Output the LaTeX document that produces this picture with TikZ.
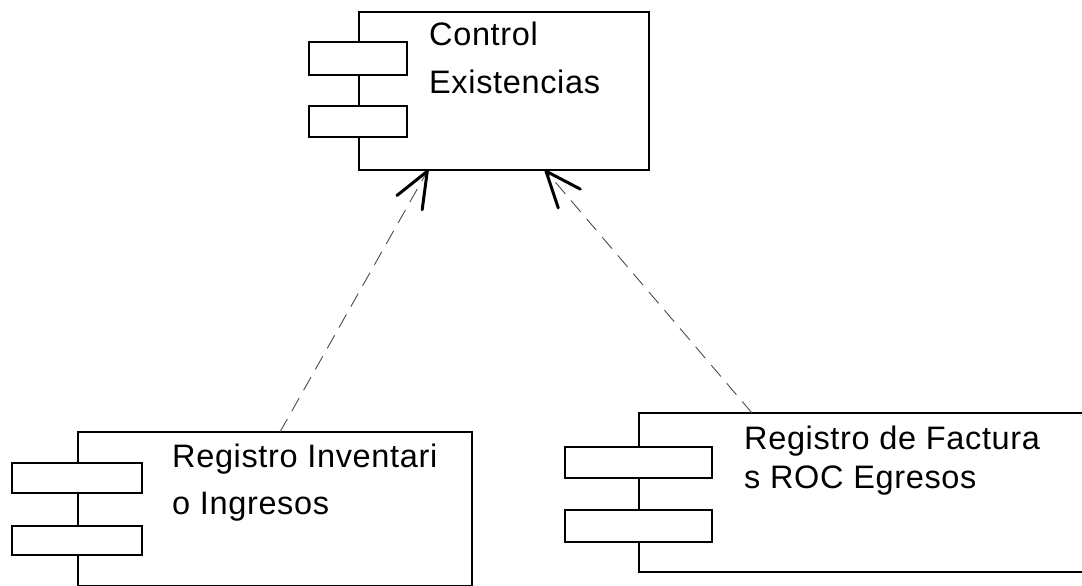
\documentclass[tikz,border=0pt]{standalone}
\usepackage{fontspec}
\usetikzlibrary{arrows.meta}
\newfontfamily\lblfont{Liberation Sans}[LetterSpace=2]
\tikzset{
  comp/.style={draw=black, line width=2.6pt, fill=white, inner sep=0pt, outer sep=0pt, anchor=north west},
  port/.style={draw=black, line width=2.2pt, fill=white, inner sep=0pt, outer sep=0pt, anchor=north west},
  lbl/.style={inner sep=0pt, anchor=base west, font=\lblfont\fontsize{32.5}{32.5}\selectfont},
  dep/.style={draw=black!70, line width=0.9pt, dash pattern=on 15pt off 9pt,
    -{Straight Barb[length=36pt,width=29pt,line width=3pt,round,color=black]}}
}
\begin{document}
\begin{tikzpicture}[x=1pt,y=-1pt]
\useasboundingbox (0,0) rectangle (1082,586);
% top component
\node[comp, minimum width=290pt, minimum height=158pt] (top) at (359,12) {};
\node[port, minimum width=98pt, minimum height=33pt] (topp1) at (309,42) {};
\node[port, minimum width=98pt, minimum height=31pt] (topp2) at (309,106) {};
\node[lbl] (topt1) at (429,46) {Control};
\node[lbl] (topt2) at (429,94) {Existencias};
% left component
\node[comp, minimum width=394pt, minimum height=154pt] (lbox) at (78,432) {};
\node[port, minimum width=130pt, minimum height=30pt] (lp1) at (12,463) {};
\node[port, minimum width=130pt, minimum height=29pt] (lp2) at (12,526) {};
\node[lbl] (lt1) at (172,467) {Registro Inventari};
\node[lbl] (lt2) at (172,514) {o Ingresos};
% right component
\node[comp, minimum width=460pt, minimum height=159pt] (rbox) at (639,413) {};
\node[port, minimum width=147pt, minimum height=31pt] (rp1) at (565,447) {};
\node[port, minimum width=147pt, minimum height=32pt] (rp2) at (565,510) {};
\node[lbl] (rt1) at (744,449) {Registro de Factura};
\node[lbl] (rt2) at (744,488) {s ROC Egresos};
% dependencies
\draw[dep] ([xshift=202pt]lbox.north west) -- ([xshift=69pt]top.south west);
\draw[dep] ([xshift=113pt]rbox.north west) -- ([xshift=186pt]top.south west);
\end{tikzpicture}
\end{document}
